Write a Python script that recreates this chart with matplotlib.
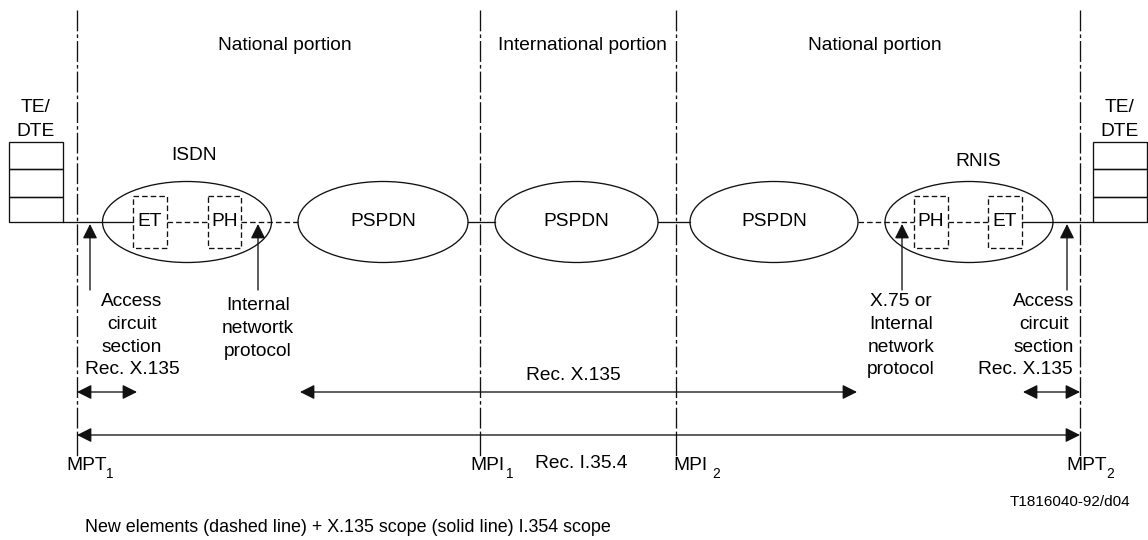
import matplotlib
matplotlib.use("Agg")
import matplotlib.pyplot as plt
from matplotlib.patches import Ellipse, Rectangle

plt.rcParams['font.family'] = ['Liberation Sans', 'DejaVu Sans']
plt.rcParams['lines.scale_dashes'] = False

# ---- content ----
portion_labels = ["National portion", "International portion", "National portion"]
network_labels = ["ISDN", "PSPDN", "PSPDN", "PSPDN", "RNIS"]
left_boxes = ["ET", "PH"]
right_boxes = ["PH", "ET"]
terminal_lines = ["TE/", "DTE"]
left_notes = [["Access", "circuit", "section", "Rec. X.135"], ["Internal", "networtk", "protocol"]]
right_notes = [["X.75 or", "Internal", "network", "protocol"], ["Access", "circuit", "section"]]
point_names = [("MPT", "1"), ("MPI", "1"), ("MPI", "2"), ("MPT", "2")]
scope_labels = ["Rec. X.135", "Rec. I.35.4"]
figure_id = "T1816040-92/d04"
caption = "New elements (dashed line) + X.135 scope (solid line) I.354 scope"

# ---- layout (pixel coordinates, y downwards) ----
W, H = 1148, 540
fig = plt.figure(figsize=(W / 100, H / 100), dpi=100)
ax = fig.add_axes([0, 0, 1, 1])
ax.set_xlim(0, W)
ax.set_ylim(H, 0)
ax.axis('off')

K = '#111111'
LW = 0.95
FS = 13.8
DASH = (0, (4.0, 2.2))
DASHDOT = (0, (15, 2.2, 2.6, 2.2))

# vertical reference lines
vx = [77, 480, 676, 1080]
for x in vx:
    ax.plot([x, x], [10, 435], color=K, lw=LW, linestyle=DASHDOT)
    ax.plot([x, x], [435, 455], color=K, lw=LW)

# portion labels
for x, t in zip([285, 582, 875], portion_labels):
    ax.text(x, 45, t, ha='center', va='center', fontsize=FS)

# terminals
MY = 222
for x0 in [9, 1093]:
    for (y0, y1) in [(142, 169), (169, 197), (197, MY)]:
        ax.add_patch(Rectangle((x0, y0), 54, y1 - y0, fill=False, ec=K, lw=LW))
    ax.text(x0 + 26.5, 107, terminal_lines[0], ha='center', va='center', fontsize=FS)
    ax.text(x0 + 26.5, 131, terminal_lines[1], ha='center', va='center', fontsize=FS)

# networks (ellipses)
ell = [(187, 169), (383, 170), (576.5, 163), (774, 168), (969, 168)]
for (cx, w), lab in zip(ell, network_labels):
    ax.add_patch(Ellipse((cx, MY), w, 81, fill=False, ec=K, lw=LW))
for i in (1, 2, 3):
    ax.text(ell[i][0], MY, network_labels[i], ha='center', va='center', fontsize=FS)
ax.text(194, 156, network_labels[0], ha='center', va='center', fontsize=FS)
ax.text(978, 161, network_labels[4], ha='center', va='center', fontsize=FS)

# dashed boxes inside ISDN / RNIS
for (x0, x1), t in zip([(133, 167), (208, 241)], left_boxes):
    ax.add_patch(Rectangle((x0, 196), x1 - x0, 52, fill=False, ec=K, lw=LW, linestyle=DASH))
    ax.text((x0 + x1) / 2, MY, t, ha='center', va='center', fontsize=FS)
for (x0, x1), t in zip([(914, 948), (988, 1022)], right_boxes):
    ax.add_patch(Rectangle((x0, 196), x1 - x0, 52, fill=False, ec=K, lw=LW, linestyle=DASH))
    ax.text((x0 + x1) / 2, MY, t, ha='center', va='center', fontsize=FS)

# main connection line
solid = [(63, 133), (468, 495), (658, 690), (1022, 1093)]
dashed = [(167, 208), (241, 298), (858, 914), (948, 988)]
for a, b in solid:
    ax.plot([a, b], [MY, MY], color=K, lw=LW)
for a, b in dashed:
    ax.plot([a, b], [MY, MY], color=K, lw=LW, linestyle=DASH)

AP = dict(color=K, lw=LW, shrinkA=0, shrinkB=0, mutation_scale=21)
HEAD = "head_length=0.42,head_width=0.21"

# vertical pointer arrows
for x in [90, 258, 902, 1067]:
    ax.annotate('', xy=(x, 224), xytext=(x, 290),
                arrowprops=dict(arrowstyle='-|>,' + HEAD, **AP))

# notes
LS = 22.5
for x, lines, y0 in [(132, left_notes[0], 302), (258, left_notes[1], 306)]:
    for k, s in enumerate(lines):
        ax.text(x, y0 + k * LS, s, ha='center', va='center', fontsize=FS)
for k, s in enumerate(right_notes[0]):
    ax.text(901, 302 + k * LS, s, ha='center', va='center', fontsize=FS)
for k, s in enumerate(right_notes[1]):
    ax.text(1044, 302 + k * LS, s, ha='center', va='center', fontsize=FS)
ax.text(1025, 302 + 3 * LS, left_notes[0][3], ha='center', va='center', fontsize=FS)

# scope arrows
for a, b, y in [(77, 137, 392), (300, 857, 392), (1023, 1080, 392), (77, 1080, 435)]:
    ax.annotate('', xy=(b, y), xytext=(a, y),
                arrowprops=dict(arrowstyle='<|-|>,' + HEAD, **AP))
ax.text(573, 375, scope_labels[0], ha='center', va='center', fontsize=FS)
ax.text(581, 463, scope_labels[1], ha='center', va='center', fontsize=FS)

# measurement points
for (name, sub), x0, xs in zip(point_names, [66, 470, 673, 1066], [110, 510, 716, 1110]):
    ax.text(x0, 465, name, ha='left', va='center', fontsize=FS)
    ax.text(xs, 474, sub, ha='center', va='center', fontsize=FS * 0.72)

ax.text(1070, 502, figure_id, ha='center', va='center', fontsize=11)
ax.text(85, 527, caption, ha='left', va='center', fontsize=FS * 0.93)

fig.savefig("out.png", dpi=100)
